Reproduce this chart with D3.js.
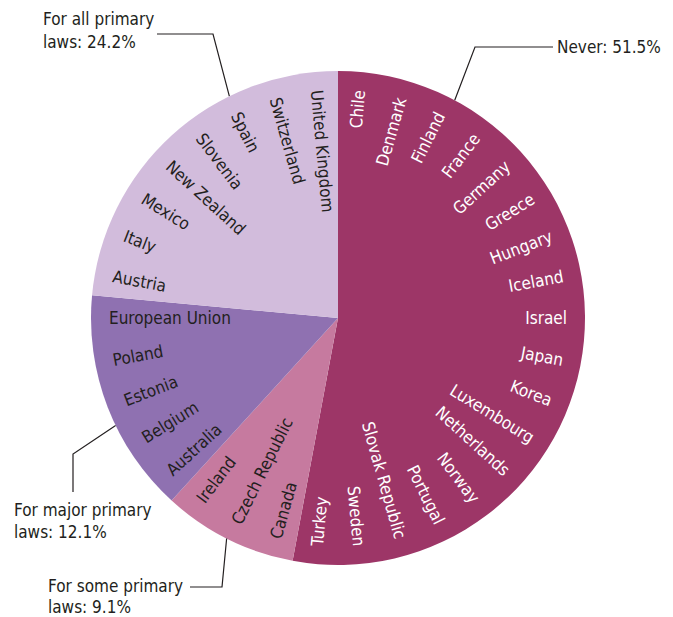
<!DOCTYPE html>
<html>
<head>
<meta charset="utf-8">
<script src="https://cdn.jsdelivr.net/npm/d3@7"></script>
<style>
  html, body { margin: 0; padding: 0; background: #ffffff; }
  svg text { font-family: "Liberation Sans Narrow", "DejaVu Sans Condensed", "Arial Narrow", sans-serif; }
</style>
</head>
<body>
<svg id="chart" width="673" height="617"></svg>
<script>
// ---- data ----
const categories = ["Never", "For some primary laws", "For major primary laws", "For all primary laws"];
const percentages = [51.5, 9.1, 12.1, 24.2];
const neverCountries = ["Chile", "Denmark", "Finland", "France", "Germany", "Greece", "Hungary", "Iceland", "Israel", "Japan", "Korea", "Luxembourg", "Netherlands", "Norway", "Portugal", "Slovak Republic", "Sweden", "Turkey"];
const someCountries = ["Canada", "Czech Republic", "Ireland"];
const majorCountries = ["Australia", "Belgium", "Estonia", "Poland", "European Union"];
const allCountries = ["Austria", "Italy", "Mexico", "New Zealand", "Slovenia", "Spain", "Switzerland", "United Kingdom"];
const calloutLines = [["Never: 51.5%"], ["For some primary", "laws: 9.1%"], ["For major primary", "laws: 12.1%"], ["For all primary", "laws: 24.2%"]];

// ---- styles / layout ----
const colors = ["#9d3667", "#c67a9f", "#8f71b1", "#d2bcdc"];
const textColors = ["#ffffff", "#231f20", "#231f20", "#231f20"];
const W = 673, H = 617, cx = 338, cy = 318, R = 247, labelR = 229;

const svg = d3.select("#chart");
const g = svg.append("g").attr("transform", `translate(${cx},${cy})`);

const groups = [neverCountries, someCountries, majorCountries, allCountries];
const countries = [];
groups.forEach((list, ci) => list.forEach(name => countries.push({ name, cat: ci })));

// category slices (value = number of countries)
const catPie = d3.pie().sort(null).value(d => d.length);
const catArcs = catPie(groups);
const arc = d3.arc().innerRadius(0).outerRadius(R);
g.selectAll("path.slice").data(catArcs).enter().append("path")
  .attr("class", "slice")
  .attr("d", arc)
  .attr("fill", (d, i) => colors[i]);

// per-country label positions
const countryPie = d3.pie().sort(null).value(1);
const cArcs = countryPie(countries);
g.selectAll("text.country").data(cArcs).enter().append("text")
  .attr("class", "country")
  .attr("font-size", 17)
  .attr("fill", d => textColors[d.data.cat])
  .attr("dy", "0.36em")
  .each(function (d) {
    const a = (d.startAngle + d.endAngle) / 2;
    const deg = a * 180 / Math.PI;
    const x = labelR * Math.sin(a), y = -labelR * Math.cos(a);
    const right = deg < 180;
    const rot = right ? deg - 90 : deg - 270;
    d3.select(this)
      .attr("text-anchor", right ? "end" : "start")
      .attr("transform", `translate(${x},${y}) rotate(${rot})`)
      .text(d.data.name);
  });

// ---- callouts ----
const callouts = [
  { cat: 0, angle: 28.2, pts: [[475, 47], [553, 47]], tx: 557, ty: [53] },
  { cat: 1, angle: 206.8, pts: [[222, 587], [190, 587]], tx: 48, ty: [592, 613] },
  { cat: 2, angle: 244.2, pts: [[73, 454], [73, 492]], tx: 14, ty: [516, 538] },
  { cat: 3, angle: 333.9, pts: [[213, 34], [157, 34]], tx: 43, ty: [25, 48] }
];
callouts.forEach(c => {
  const a = c.angle * Math.PI / 180;
  const start = [cx + R * Math.sin(a), cy - R * Math.cos(a)];
  const pts = [start].concat(c.pts);
  svg.append("path")
    .attr("d", d3.line()(pts))
    .attr("fill", "none")
    .attr("stroke", "#231f20")
    .attr("stroke-width", 1.2);
  const lines = calloutLines[c.cat];
  lines.forEach((t, i) => {
    svg.append("text")
      .attr("x", c.tx)
      .attr("y", c.ty[i])
      .attr("font-size", 17)
      .attr("fill", "#231f20")
      .text(t);
  });
});
</script>
</body>
</html>
